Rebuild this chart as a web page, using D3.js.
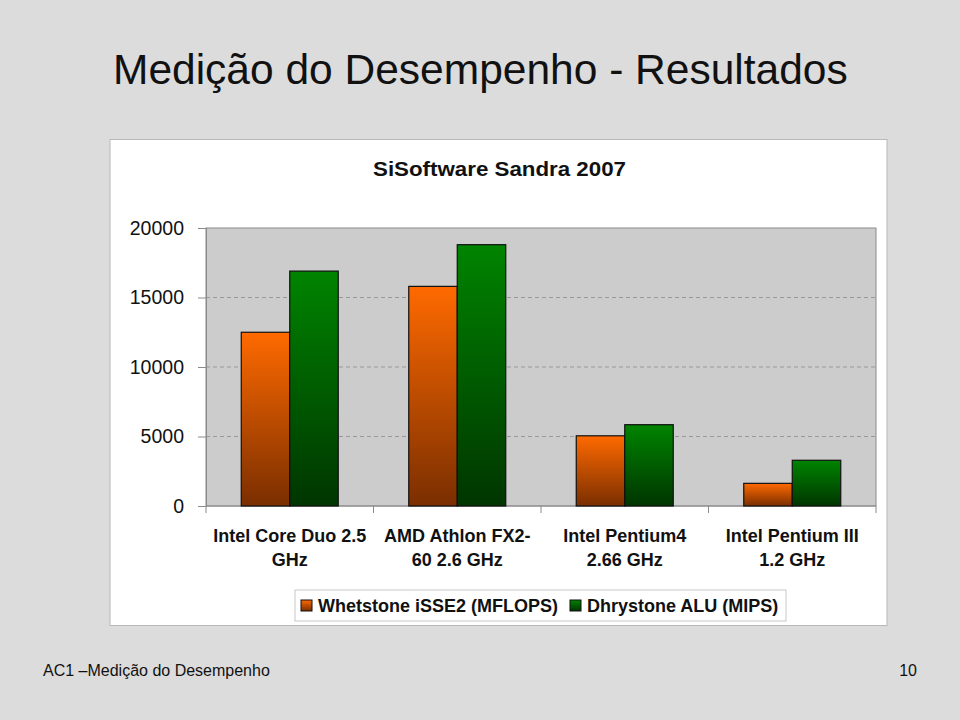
<!DOCTYPE html>
<html><head><meta charset="utf-8">
<script src="https://cdn.jsdelivr.net/npm/d3@7"></script>
<style>
html,body{margin:0;padding:0;background:#dcdcdc;}
svg{display:block;}
</style></head>
<body>
<svg id="c" width="960" height="720"></svg>
<script>
const categories = [["Intel Core Duo 2.5","GHz"],["AMD Athlon FX2-","60 2.6 GHz"],["Intel Pentium4","2.66 GHz"],["Intel Pentium III","1.2 GHz"]];
const seriesNames = ["Whetstone iSSE2 (MFLOPS)","Dhrystone ALU (MIPS)"];
const whetstone = [12500, 15800, 5050, 1630];
const dhrystone = [16900, 18800, 5850, 3290];
const yTicks = [0, 5000, 10000, 15000, 20000];

(function(){
const svg = d3.select("#c");
const font = "'Liberation Sans', Arial, Helvetica, sans-serif";
svg.append("rect").attr("width",960).attr("height",720).attr("fill","#dcdcdc");

const defs = svg.append("defs");
const grads = [["gO","#ff6a00","#7a2e00"],["gG","#008400","#003500"]];
grads.forEach(([id,a,b])=>{
  const g = defs.append("linearGradient").attr("id",id).attr("x1",0).attr("y1",0).attr("x2",0).attr("y2",1);
  g.append("stop").attr("offset","0%").attr("stop-color",a);
  g.append("stop").attr("offset","100%").attr("stop-color",b);
});

svg.append("text").attr("x",113).attr("y",84).attr("font-family",font).attr("font-size",42.5)
  .attr("fill","#111").text("Medição do Desempenho - Resultados");

svg.append("rect").attr("x",110).attr("y",139.5).attr("width",777).attr("height",486)
  .attr("fill","#fff").attr("stroke","#b8b8b8");

svg.append("text").attr("x",499.5).attr("y",176).attr("text-anchor","middle").attr("font-family",font)
  .attr("font-weight","bold").attr("font-size",20.5).attr("fill","#111")
  .attr("textLength",253).attr("lengthAdjust","spacingAndGlyphs").text("SiSoftware Sandra 2007");

const pL=206, pR=876, pT=228, pB=506;
const x0 = d3.scaleBand().domain(d3.range(categories.length)).range([pL,pR]).padding(0);
const x1 = d3.scaleBand().domain([0,1]).range([0,x0.bandwidth()]).paddingInner(0).paddingOuter(0.727);
const y = d3.scaleLinear().domain([0,20000]).range([pB,pT]);

svg.append("rect").attr("x",pL).attr("y",pT).attr("width",pR-pL).attr("height",pB-pT)
  .attr("fill","#cccccc").attr("stroke","#8a8a8a").attr("stroke-width",1);

svg.append("g").selectAll("line").data(yTicks.filter(d=>d>0&&d<20000)).join("line")
  .attr("x1",pL).attr("x2",pR).attr("y1",d=>y(d)).attr("y2",d=>y(d))
  .attr("stroke","#999").attr("stroke-dasharray","4,3").attr("stroke-width",1);

const yAxis = d3.axisLeft(y).tickValues(yTicks).tickSize(8).tickPadding(14).tickFormat(d3.format("d"));
const ya = svg.append("g").attr("transform",`translate(${pL},0)`).call(yAxis);
ya.select(".domain").attr("stroke","#8a8a8a");
ya.selectAll(".tick line").attr("stroke","#8a8a8a");
ya.selectAll(".tick text").attr("font-family",font).attr("font-size",19.5).attr("fill","#111");

const bounds = d3.range(categories.length+1).map(i=> i<categories.length ? x0(i) : pR);
svg.append("g").selectAll("line").data(bounds).join("line")
  .attr("x1",d=>d).attr("x2",d=>d).attr("y1",pB).attr("y2",pB+7).attr("stroke","#8a8a8a");
svg.append("line").attr("x1",pL).attr("x2",pR).attr("y1",pB).attr("y2",pB).attr("stroke","#8a8a8a");

const data = [whetstone, dhrystone];
const gb = svg.append("g");
categories.forEach((c,i)=>{
  data.forEach((s,j)=>{
    gb.append("rect").attr("x",x0(i)+x1(j)).attr("y",y(s[i])).attr("width",x1.bandwidth())
      .attr("height",y(0)-y(s[i])).attr("fill",`url(#${grads[j][0]})`).attr("stroke","#111").attr("stroke-width",1.2);
  });
});

const xl = svg.append("g");
categories.forEach((c,i)=>{
  const cx = x0(i)+x0.bandwidth()/2;
  c.forEach((line,k)=>{
    xl.append("text").attr("x",cx).attr("y",542+k*24).attr("text-anchor","middle").attr("font-family",font)
      .attr("font-weight","bold").attr("font-size",18).attr("fill","#111").text(line);
  });
});

svg.append("rect").attr("x",295).attr("y",590).attr("width",491).attr("height",31).attr("fill","#fff").attr("stroke","#c8c8c8");
const lgX = [301, 570];
seriesNames.forEach((n,j)=>{
  svg.append("rect").attr("x",lgX[j]).attr("y",600).attr("width",11).attr("height",11)
    .attr("fill",`url(#${grads[j][0]})`).attr("stroke","#111");
  svg.append("text").attr("x",lgX[j]+17).attr("y",612).attr("font-family",font).attr("font-weight","bold")
    .attr("font-size",18).attr("fill","#111").text(n);
});

svg.append("text").attr("x",43).attr("y",676).attr("font-family",font).attr("font-size",16).attr("fill","#111").text("AC1 –Medição do Desempenho");
svg.append("text").attr("x",917).attr("y",676).attr("text-anchor","end").attr("font-family",font).attr("font-size",16).attr("fill","#111").text("10");
})();
</script>
</body></html>
